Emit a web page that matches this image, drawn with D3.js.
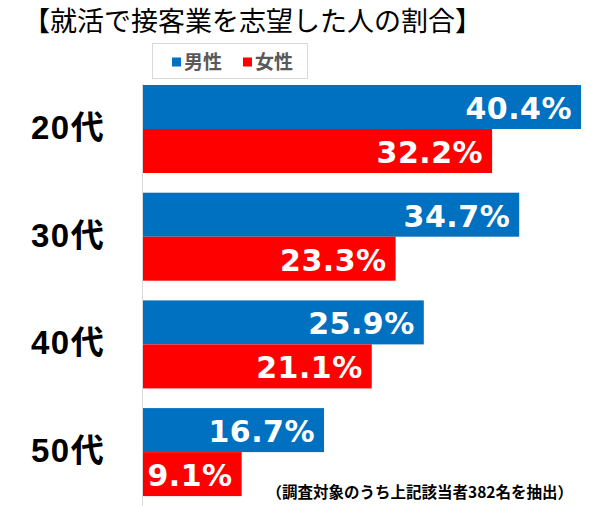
<!DOCTYPE html>
<html><head><meta charset="utf-8">
<script src="https://cdn.jsdelivr.net/npm/d3@7"></script>
<style>body{margin:0;background:#fff}svg{display:block}</style>
</head><body>
<script>
const categories = ["20代","30代","40代","50代"];
const seriesNames = ["男性","女性"];
const male = [40.4, 34.7, 25.9, 16.7];
const female = [32.2, 23.3, 21.1, 9.1];
const colors = ["#0070C0","#FF0000"];

const W=600,H=506;
const svg=d3.select("body").append("svg").attr("width",W).attr("height",H);
const font="'Liberation Sans','Noto Sans CJK JP',Arial,sans-serif";
const vfont="'DejaVu Sans',sans-serif";
const jfont="'Noto Sans CJK JP',sans-serif";

const x0=143;
const x=d3.scaleLinear().domain([0,40.4]).range([x0,581]);
const yb=d3.scaleBand().domain(categories).range([85,85+107.7*4-19.7]).paddingInner(19.7/107.7);
const ys=d3.scaleBand().domain([0,1]).range([0,yb.bandwidth()]);

// title
svg.append("text").attr("x",23).attr("y",31).attr("font-family",jfont).attr("font-size",27)
  .attr("fill","#000").text("【就活で接客業を志望した人の割合】");

// legend
const lg=svg.append("g");
lg.append("rect").attr("x",152.5).attr("y",43.5).attr("width",155).attr("height",35)
  .attr("fill","#fff").attr("stroke","#d9d9d9");
const lx=[172,243];
seriesNames.forEach((n,i)=>{
  lg.append("rect").attr("x",lx[i]).attr("y",57.5).attr("width",9).attr("height",9).attr("fill",colors[i]);
  lg.append("text").attr("x",lx[i]+12).attr("y",69).attr("font-family",jfont).attr("font-weight","bold")
    .attr("font-size",19).attr("fill","#595959").text(n);
});

// axis line
svg.append("line").attr("x1",142.5).attr("x2",142.5).attr("y1",84).attr("y2",506).attr("stroke","#d9d9d9");

const data=categories.map((c,i)=>({c,vals:[male[i],female[i]]}));
const g=svg.selectAll("g.grp").data(data).join("g").attr("class","grp")
  .attr("transform",d=>`translate(0,${yb(d.c)})`);
g.selectAll("rect").data(d=>d.vals).join("rect")
  .attr("x",x0).attr("y",(d,i)=>ys(i)).attr("width",d=>x(d)-x0).attr("height",ys.bandwidth())
  .attr("fill",(d,i)=>colors[i]);
g.selectAll("text.val").data(d=>d.vals).join("text").attr("class","val")
  .attr("x",d=>x(d)-9).attr("y",(d,i)=>ys(i)+ys.bandwidth()/2+12)
  .attr("text-anchor","end").attr("font-family",vfont).attr("font-weight","bold")
  .attr("font-size",30).attr("letter-spacing","0.5px").attr("fill","#fff").text(d=>d.toFixed(1)+"%");

// category labels
svg.selectAll("text.cat").data(categories).join("text").attr("class","cat")
  .attr("x",31).attr("y",d=>yb(d)+yb.bandwidth()/2+10).attr("text-anchor","start")
  .attr("font-family",font).attr("font-weight","bold").attr("font-size",33).attr("letter-spacing","1.5px").attr("fill","#000")
  .text(d=>d);

// footnote
svg.append("text").attr("x",573).attr("y",498).attr("text-anchor","end")
  .attr("font-family",jfont).attr("font-weight","bold").attr("font-size",15.5).attr("fill","#000")
  .text("（調査対象のうち上記該当者382名を抽出）");
</script>
</body></html>
